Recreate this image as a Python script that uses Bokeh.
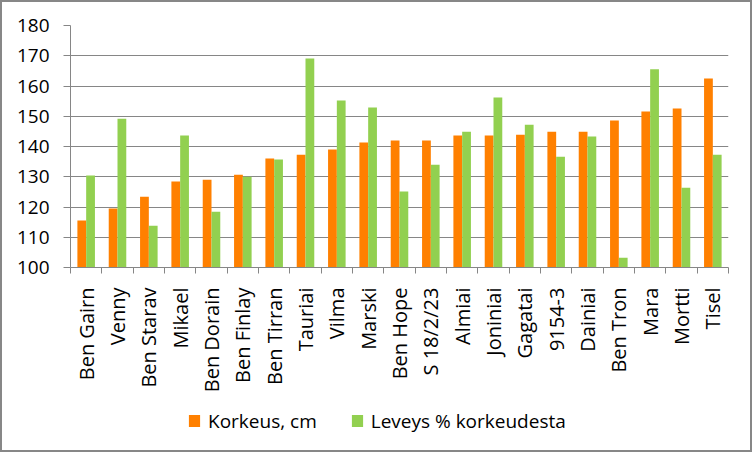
import math
from bokeh.plotting import figure
from bokeh.layouts import column
from bokeh.models import Range1d, FixedTicker, Legend, LegendItem, ColumnDataSource
from bokeh.transform import dodge
from bokeh.embed import file_html
from bokeh.resources import INLINE

categories = ["Ben Gairn", "Venny", "Ben Starav", "Mikael", "Ben Dorain", "Ben Finlay",
              "Ben Tirran", "Tauriai", "Vilma", "Marski", "Ben Hope", "S 18/2/23",
              "Almiai", "Joniniai", "Gagatai", "9154-3", "Dainiai", "Ben Tron",
              "Mara", "Mortti", "Tisel"]
korkeus = [115.5, 119.5, 123.4, 128.4, 129.0, 130.7, 136.0, 137.3, 139.0, 141.3, 142.0,
           142.0, 143.6, 143.6, 143.9, 144.9, 144.9, 148.6, 151.6, 152.6, 162.5]
leveys = [130.4, 149.2, 113.8, 143.6, 118.4, 130.0, 135.7, 169.1, 155.2, 152.9, 125.1,
          134.0, 144.9, 156.2, 147.2, 136.6, 143.3, 103.2, 165.5, 126.4, 137.3]
y_ticks = [100, 110, 120, 130, 140, 150, 160, 170, 180]
series_names = ["Korkeus, cm", "Leveys % korkeudesta"]

ORANGE = "#FF8000"
GREEN = "#92D050"
GRAY = "#868686"
FONT = "Open Sans"

n = len(categories)
xs = list(range(n))
source = ColumnDataSource(dict(x=xs, k=korkeus, l=leveys))

p = figure(width=748, height=393, output_backend="svg", toolbar_location=None,
           x_range=Range1d(-0.5, n - 0.5), y_range=Range1d(y_ticks[0], y_ticks[-1]),
           min_border_left=68, min_border_right=22, min_border_top=23, min_border_bottom=128)
p.outline_line_color = None
p.background_fill_color = "white"
p.border_fill_color = "white"

r1 = p.vbar(x=dodge("x", -0.14), top="k", bottom=y_ticks[0], width=0.28, source=source,
            fill_color=ORANGE, line_color=None)
r2 = p.vbar(x=dodge("x", 0.14), top="l", bottom=y_ticks[0], width=0.28, source=source,
            fill_color=GREEN, line_color=None)

# x axis
xa = p.xaxis[0]
xa.ticker = FixedTicker(ticks=xs, minor_ticks=[i - 0.5 for i in range(n + 1)])
xa.major_label_overrides = {i: c for i, c in enumerate(categories)}
xa.major_label_orientation = math.pi / 2
xa.major_tick_line_color = None
xa.major_tick_out = 0
xa.major_tick_in = 0
xa.minor_tick_line_color = GRAY
xa.minor_tick_out = 6
xa.minor_tick_in = 0
xa.axis_line_color = GRAY
xa.major_label_standoff = 14
xa.major_label_text_font = FONT
xa.major_label_text_font_size = "20px"
xa.major_label_text_color = "black"

ya = p.yaxis[0]
ya.ticker = FixedTicker(ticks=y_ticks)
ya.major_tick_line_color = GRAY
ya.major_tick_out = 7
ya.major_tick_in = 0
ya.minor_tick_line_color = None
ya.axis_line_color = GRAY
ya.major_label_standoff = 14
ya.major_label_text_font = FONT
ya.major_label_text_font_size = "19px"
ya.major_label_text_color = "black"

p.xgrid.grid_line_color = None
p.ygrid.grid_line_color = GRAY
p.ygrid.grid_line_width = 1

# legend strip (swatch renderers have zero height, so they draw nothing)
lf = figure(width=748, height=55, output_backend="svg", toolbar_location=None,
            x_range=Range1d(0, 1), y_range=Range1d(0, 1),
            min_border=0, min_border_left=0, min_border_right=0,
            min_border_top=0, min_border_bottom=0)
lf.axis.visible = False
lf.grid.visible = False
lf.outline_line_color = None
lf.background_fill_color = "white"
lf.border_fill_color = "white"
lr1 = lf.vbar(x=[0.5], top=[0], bottom=0, width=0.1, fill_color=ORANGE, line_color=None)
lr2 = lf.vbar(x=[0.5], top=[0], bottom=0, width=0.1, fill_color=GREEN, line_color=None)

legend = Legend(items=[LegendItem(label=series_names[0], renderers=[lr1]),
                       LegendItem(label=series_names[1], renderers=[lr2])],
                orientation="horizontal", location=(117, 16.5),
                glyph_width=14, glyph_height=15, label_height=15, label_standoff=7,
                spacing=33, padding=0, margin=0,
                border_line_color=None, background_fill_alpha=0,
                label_text_font=FONT, label_text_font_size="19px",
                label_text_color="black")
lf.add_layout(legend, "center")

layout = column(p, lf, spacing=0, styles={"border": "2px solid #878787"})

open("out.html", "w").write(file_html(layout, INLINE))
